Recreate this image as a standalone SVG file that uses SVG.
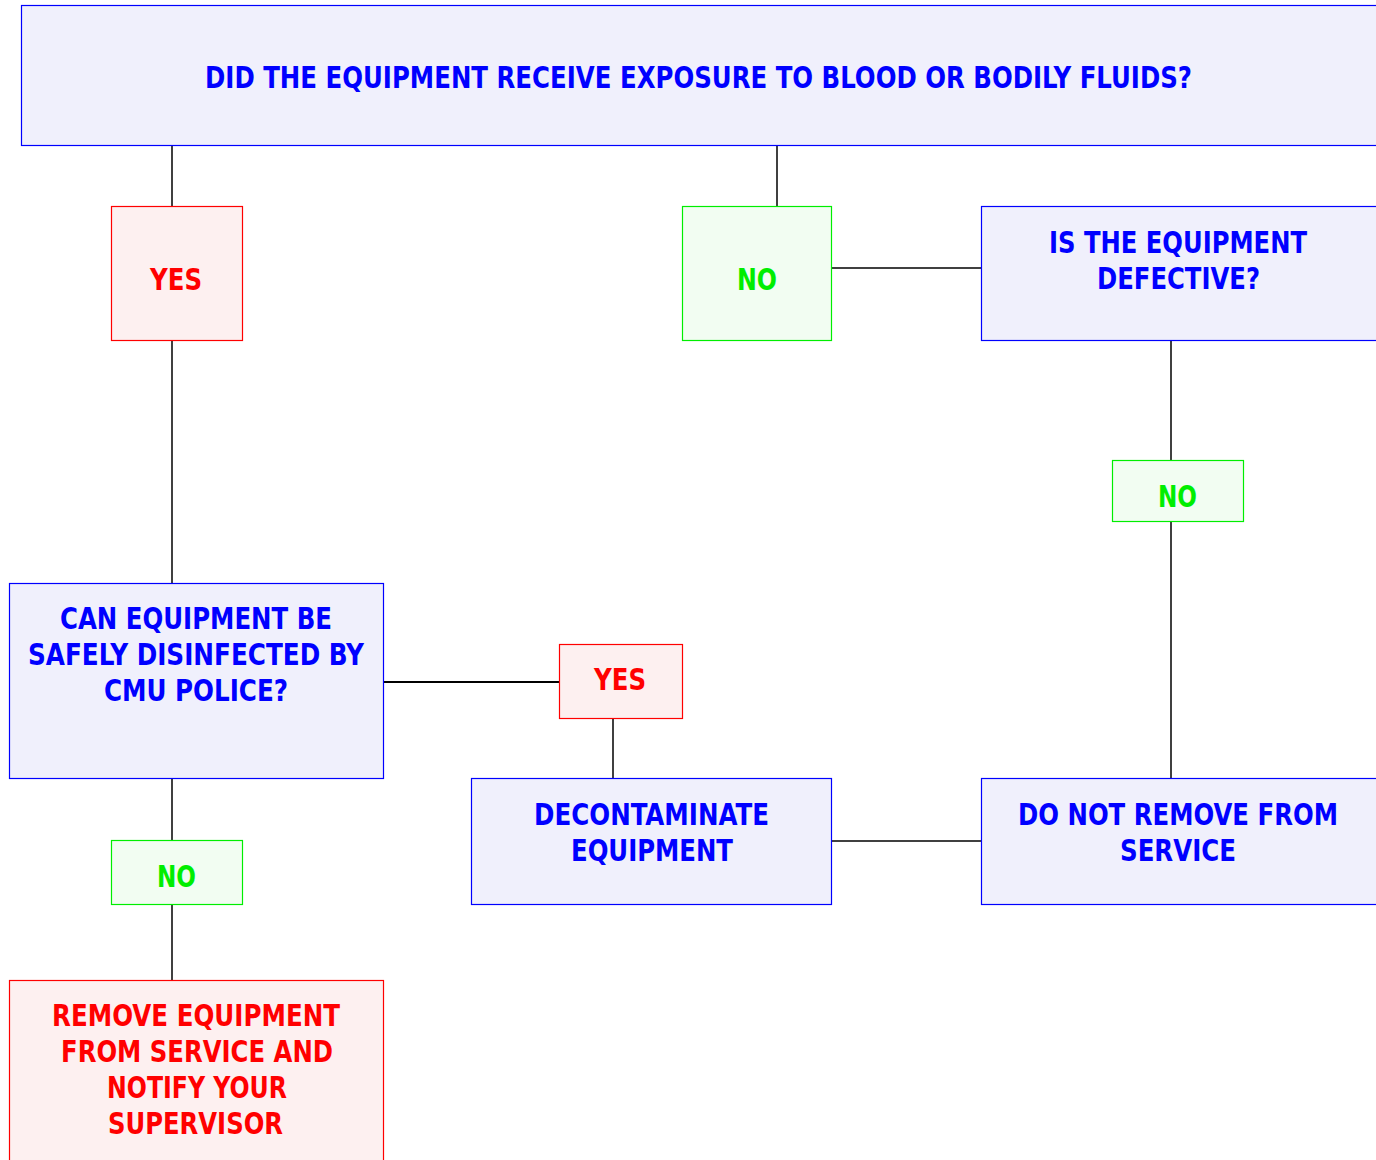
<svg xmlns="http://www.w3.org/2000/svg" width="1376" height="1160" viewBox="0 0 1376 1160">
<style>
text{font-family:"DejaVu Sans Condensed","Liberation Sans",sans-serif;font-size:30px;font-weight:bold;text-anchor:middle}
.b rect{fill:#f0f0fc;stroke:#0000ff;stroke-width:1.2}
.b text{fill:#0000ff}
.r rect{fill:#fdf0f0;stroke:#ff0000;stroke-width:1.2}
.r text{fill:#ff0000}
.g rect{fill:#f2fdf2;stroke:#00ee00;stroke-width:1.2}
.g text{fill:#00ee00}
#edges line{stroke:#000;stroke-width:1.5}
</style>
<rect width="1376" height="1160" fill="#fff"/>
<g id="edges">
<line x1="172" y1="145" x2="172" y2="206"/>
<line x1="172" y1="340" x2="172" y2="583"/>
<line x1="777" y1="145" x2="777" y2="206"/>
<line x1="831" y1="268" x2="981" y2="268"/>
<line x1="1171" y1="340" x2="1171" y2="460"/>
<line x1="1171" y1="521" x2="1171" y2="778"/>
<line x1="831" y1="841" x2="981" y2="841"/>
<line x1="613" y1="718" x2="613" y2="778"/>
<line x1="383" y1="682" x2="559" y2="682" style="stroke-width:2"/>
<line x1="172" y1="778" x2="172" y2="840"/>
<line x1="172" y1="904" x2="172" y2="980"/>
</g>
<g id="q1" class="b"><rect x="21.5" y="5.5" width="1360" height="140"/><text x="698.5" y="88" textLength="987" lengthAdjust="spacingAndGlyphs">DID THE EQUIPMENT RECEIVE EXPOSURE TO BLOOD OR BODILY FLUIDS?</text></g>
<g id="yes1" class="r"><rect x="111.5" y="206.5" width="131" height="134"/><text x="176" y="290" textLength="52" lengthAdjust="spacingAndGlyphs">YES</text></g>
<g id="no1" class="g"><rect x="682.5" y="206.5" width="149" height="134"/><text x="757" y="290" textLength="40" lengthAdjust="spacingAndGlyphs">NO</text></g>
<g id="q2" class="b"><rect x="981.5" y="206.5" width="400" height="134"/><text x="1178" y="253" textLength="258" lengthAdjust="spacingAndGlyphs">IS THE EQUIPMENT</text><text x="1178.5" y="289" textLength="163" lengthAdjust="spacingAndGlyphs">DEFECTIVE?</text></g>
<g id="no2" class="g"><rect x="1112.5" y="460.5" width="131" height="61"/><text x="1177.5" y="507" textLength="39" lengthAdjust="spacingAndGlyphs">NO</text></g>
<g id="keep" class="b"><rect x="981.5" y="778.5" width="400" height="126"/><text x="1178" y="825" textLength="320" lengthAdjust="spacingAndGlyphs">DO NOT REMOVE FROM</text><text x="1178" y="861" textLength="116" lengthAdjust="spacingAndGlyphs">SERVICE</text></g>
<g id="decon" class="b"><rect x="471.5" y="778.5" width="360" height="126"/><text x="651.5" y="825" textLength="235" lengthAdjust="spacingAndGlyphs">DECONTAMINATE</text><text x="652" y="861" textLength="162" lengthAdjust="spacingAndGlyphs">EQUIPMENT</text></g>
<g id="yes2" class="r"><rect x="559.5" y="644.5" width="123" height="74"/><text x="620" y="690" textLength="52" lengthAdjust="spacingAndGlyphs">YES</text></g>
<g id="q3" class="b"><rect x="9.5" y="583.5" width="374" height="195"/><text x="196" y="629" textLength="272" lengthAdjust="spacingAndGlyphs">CAN EQUIPMENT BE</text><text x="196" y="665" textLength="336" lengthAdjust="spacingAndGlyphs">SAFELY DISINFECTED BY</text><text x="196" y="701" textLength="184" lengthAdjust="spacingAndGlyphs">CMU POLICE?</text></g>
<g id="no3" class="g"><rect x="111.5" y="840.5" width="131" height="64"/><text x="176.5" y="887" textLength="39" lengthAdjust="spacingAndGlyphs">NO</text></g>
<g id="remove" class="r"><rect x="9.5" y="980.5" width="374" height="200"/><text x="196" y="1026" textLength="288" lengthAdjust="spacingAndGlyphs">REMOVE EQUIPMENT</text><text x="197" y="1062" textLength="272" lengthAdjust="spacingAndGlyphs">FROM SERVICE AND</text><text x="197" y="1098" textLength="180" lengthAdjust="spacingAndGlyphs">NOTIFY YOUR</text><text x="195.5" y="1134" textLength="175" lengthAdjust="spacingAndGlyphs">SUPERVISOR</text></g>
</svg>
